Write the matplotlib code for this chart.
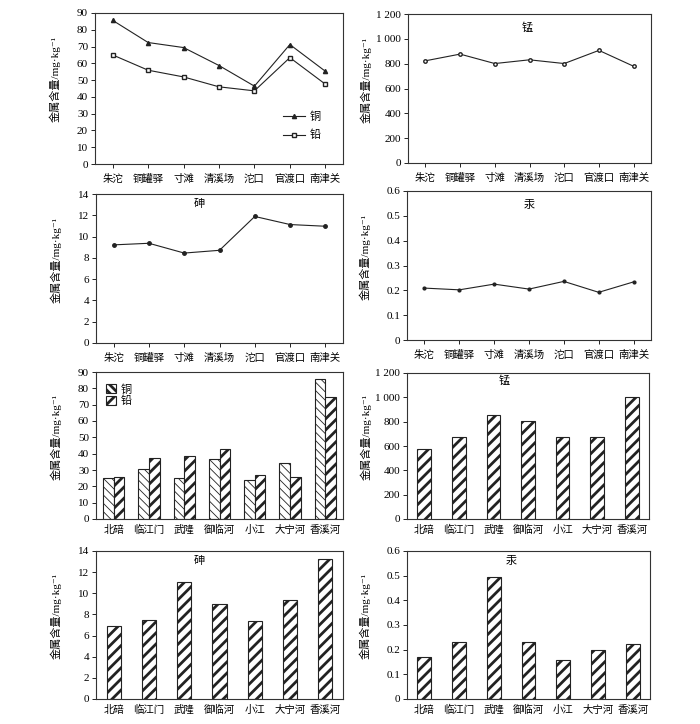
import matplotlib
matplotlib.use("Agg")
import matplotlib.pyplot as plt
from matplotlib.ticker import FuncFormatter, MultipleLocator
import numpy as np

plt.rcParams['font.family'] = ['Liberation Serif', 'Noto Sans CJK SC', 'DejaVu Sans']
plt.rcParams['font.size'] = 8
plt.rcParams['axes.linewidth'] = 0.8
plt.rcParams['axes.edgecolor'] = '#333333'

# main stream stations (line charts)
stations = ['朱沱', '铜罐驿', '寸滩', '清溪场', '沱口', '官渡口', '南津关']
cu_main = [85.6, 72.4, 69.4, 58.7, 46.4, 71.2, 55.3]
pb_main = [65.0, 55.9, 51.9, 46.0, 43.6, 63.4, 47.6]
mn_main = [823, 877, 801, 831, 801, 907, 779]
as_main = [9.22, 9.37, 8.45, 8.71, 11.89, 11.13, 10.97]
hg_main = [0.209, 0.202, 0.225, 0.205, 0.236, 0.192, 0.234]

# tributaries (bar charts)
tribs = ['北碚', '临江门', '武隆', '御临河', '小江', '大宁河', '香溪河']
cu_trib = [25.0, 30.5, 25.0, 36.8, 23.6, 34.3, 85.5]
pb_trib = [25.6, 37.2, 38.8, 42.9, 26.8, 25.6, 74.8]
mn_trib = [574, 670, 857, 805, 670, 675, 999]
as_trib = [6.95, 7.52, 11.1, 8.97, 7.36, 9.41, 13.27]
hg_trib = [0.169, 0.232, 0.493, 0.230, 0.159, 0.197, 0.224]

ylabel = '金属含量/mg·kg⁻¹'
W, H = 700, 724

fig = plt.figure(figsize=(7.0, 7.24), dpi=100)


def panel(l, t, r, b):
    return fig.add_axes([l / W, 1 - b / H, (r - l) / W, (b - t) / H])


def space_fmt(v, pos):
    return f'{int(round(v)):,}'.replace(',', ' ')


def dec_fmt(v, pos):
    return '0' if abs(v) < 1e-9 else f'{v:.1f}'


def style(ax, labels, ymax, step, fmt=None, bars=False, lab_x=-0.14):
    x = np.arange(len(labels))
    ax.set_xlim(-0.5, len(labels) - 0.5)
    ax.set_ylim(0, ymax)
    ax.yaxis.set_major_locator(MultipleLocator(step))
    if fmt is not None:
        ax.yaxis.set_major_formatter(FuncFormatter(fmt))
    ax.set_xticks(x)
    ax.set_xticklabels(labels, fontsize=7.5)
    ax.tick_params(axis='y', direction='out', length=3, width=0.6, labelsize=8, pad=2)
    ax.tick_params(axis='x', direction='out', length=0 if bars else 3, width=0.6, pad=4)
    ax.set_ylabel(ylabel, fontsize=8)
    ax.yaxis.set_label_coords(lab_x, 0.56)


line_kw = dict(color='#222222', lw=0.8)
RX = -0.148

# row 1
ax1 = panel(95, 13, 343, 164)
x = np.arange(len(stations))
ax1.plot(x, cu_main, marker='^', ms=3, mfc='#222222', mec='#222222', label='铜', **line_kw)
ax1.plot(x, pb_main, marker='s', ms=3, mfc='white', mec='#222222', label='铅', **line_kw)
style(ax1, stations, 90, 10)
ax1.legend(loc='lower right', bbox_to_anchor=(0.95, 0.09), frameon=False, fontsize=8,
           handlelength=2.0, handletextpad=0.4, labelspacing=0.7)

ax2 = panel(408, 14, 651, 163)
ax2.plot(x, mn_main, marker='o', ms=2.5, mfc='white', mec='#222222', **line_kw)
style(ax2, stations, 1200, 200, space_fmt, lab_x=RX)
ax2.text(0.49, 0.91, '锰', transform=ax2.transAxes, ha='center', va='center', fontsize=8)

# row 2
ax3 = panel(96, 194, 343, 343)
ax3.plot(x, as_main, marker='o', ms=2.5, mfc='#222222', mec='#222222', **line_kw)
style(ax3, stations, 14, 2)
ax3.text(0.42, 0.93, '砷', transform=ax3.transAxes, ha='center', va='center', fontsize=8)

ax4 = panel(407, 191, 651, 340)
ax4.plot(x, hg_main, marker='o', ms=2, mfc='#222222', mec='#222222', **line_kw)
style(ax4, stations, 0.6, 0.1, dec_fmt, lab_x=RX)
ax4.text(0.50, 0.906, '汞', transform=ax4.transAxes, ha='center', va='center', fontsize=8)


def hatched_bar(ax, xs, vals, width, hatch, hlw):
    plt.rcParams['hatch.linewidth'] = hlw
    bars = ax.bar(xs, vals, width=width, color='white', edgecolor='#222222',
                  linewidth=0.8, hatch=hatch)
    for b in bars:
        if hasattr(b, 'set_hatch_linewidth'):
            b.set_hatch_linewidth(hlw)
    return bars


# row 3
xt = np.arange(len(tribs))
ax5 = panel(96, 372, 343, 519)
b_cu = hatched_bar(ax5, xt - 0.15, cu_trib, 0.3, '\\\\\\\\', 0.6)
b_pb = hatched_bar(ax5, xt + 0.15, pb_trib, 0.3, '///', 2.0)
style(ax5, tribs, 90, 10, bars=True)
ax5.legend([b_cu, b_pb], ['铜', '铅'], loc='upper left', bbox_to_anchor=(0.0, 0.985),
           frameon=False, fontsize=8, handlelength=0.9, handleheight=0.9,
           handletextpad=0.4, labelspacing=0.1)

ax6 = panel(407, 373, 649, 519)
hatched_bar(ax6, xt, mn_trib, 0.4, '///', 2.0)
style(ax6, tribs, 1200, 200, space_fmt, bars=True, lab_x=RX)
ax6.text(0.40, 0.945, '锰', transform=ax6.transAxes, ha='center', va='center', fontsize=8)

# row 4
ax7 = panel(96, 551, 343, 699)
hatched_bar(ax7, xt, as_trib, 0.4, '///', 2.0)
style(ax7, tribs, 14, 2, bars=True)
ax7.text(0.42, 0.93, '砷', transform=ax7.transAxes, ha='center', va='center', fontsize=8)

ax8 = panel(407, 551, 650, 699)
hatched_bar(ax8, xt, hg_trib, 0.4, '///', 2.0)
style(ax8, tribs, 0.6, 0.1, dec_fmt, bars=True, lab_x=RX)
ax8.text(0.43, 0.93, '汞', transform=ax8.transAxes, ha='center', va='center', fontsize=8)

fig.savefig('out.png', dpi=100)
